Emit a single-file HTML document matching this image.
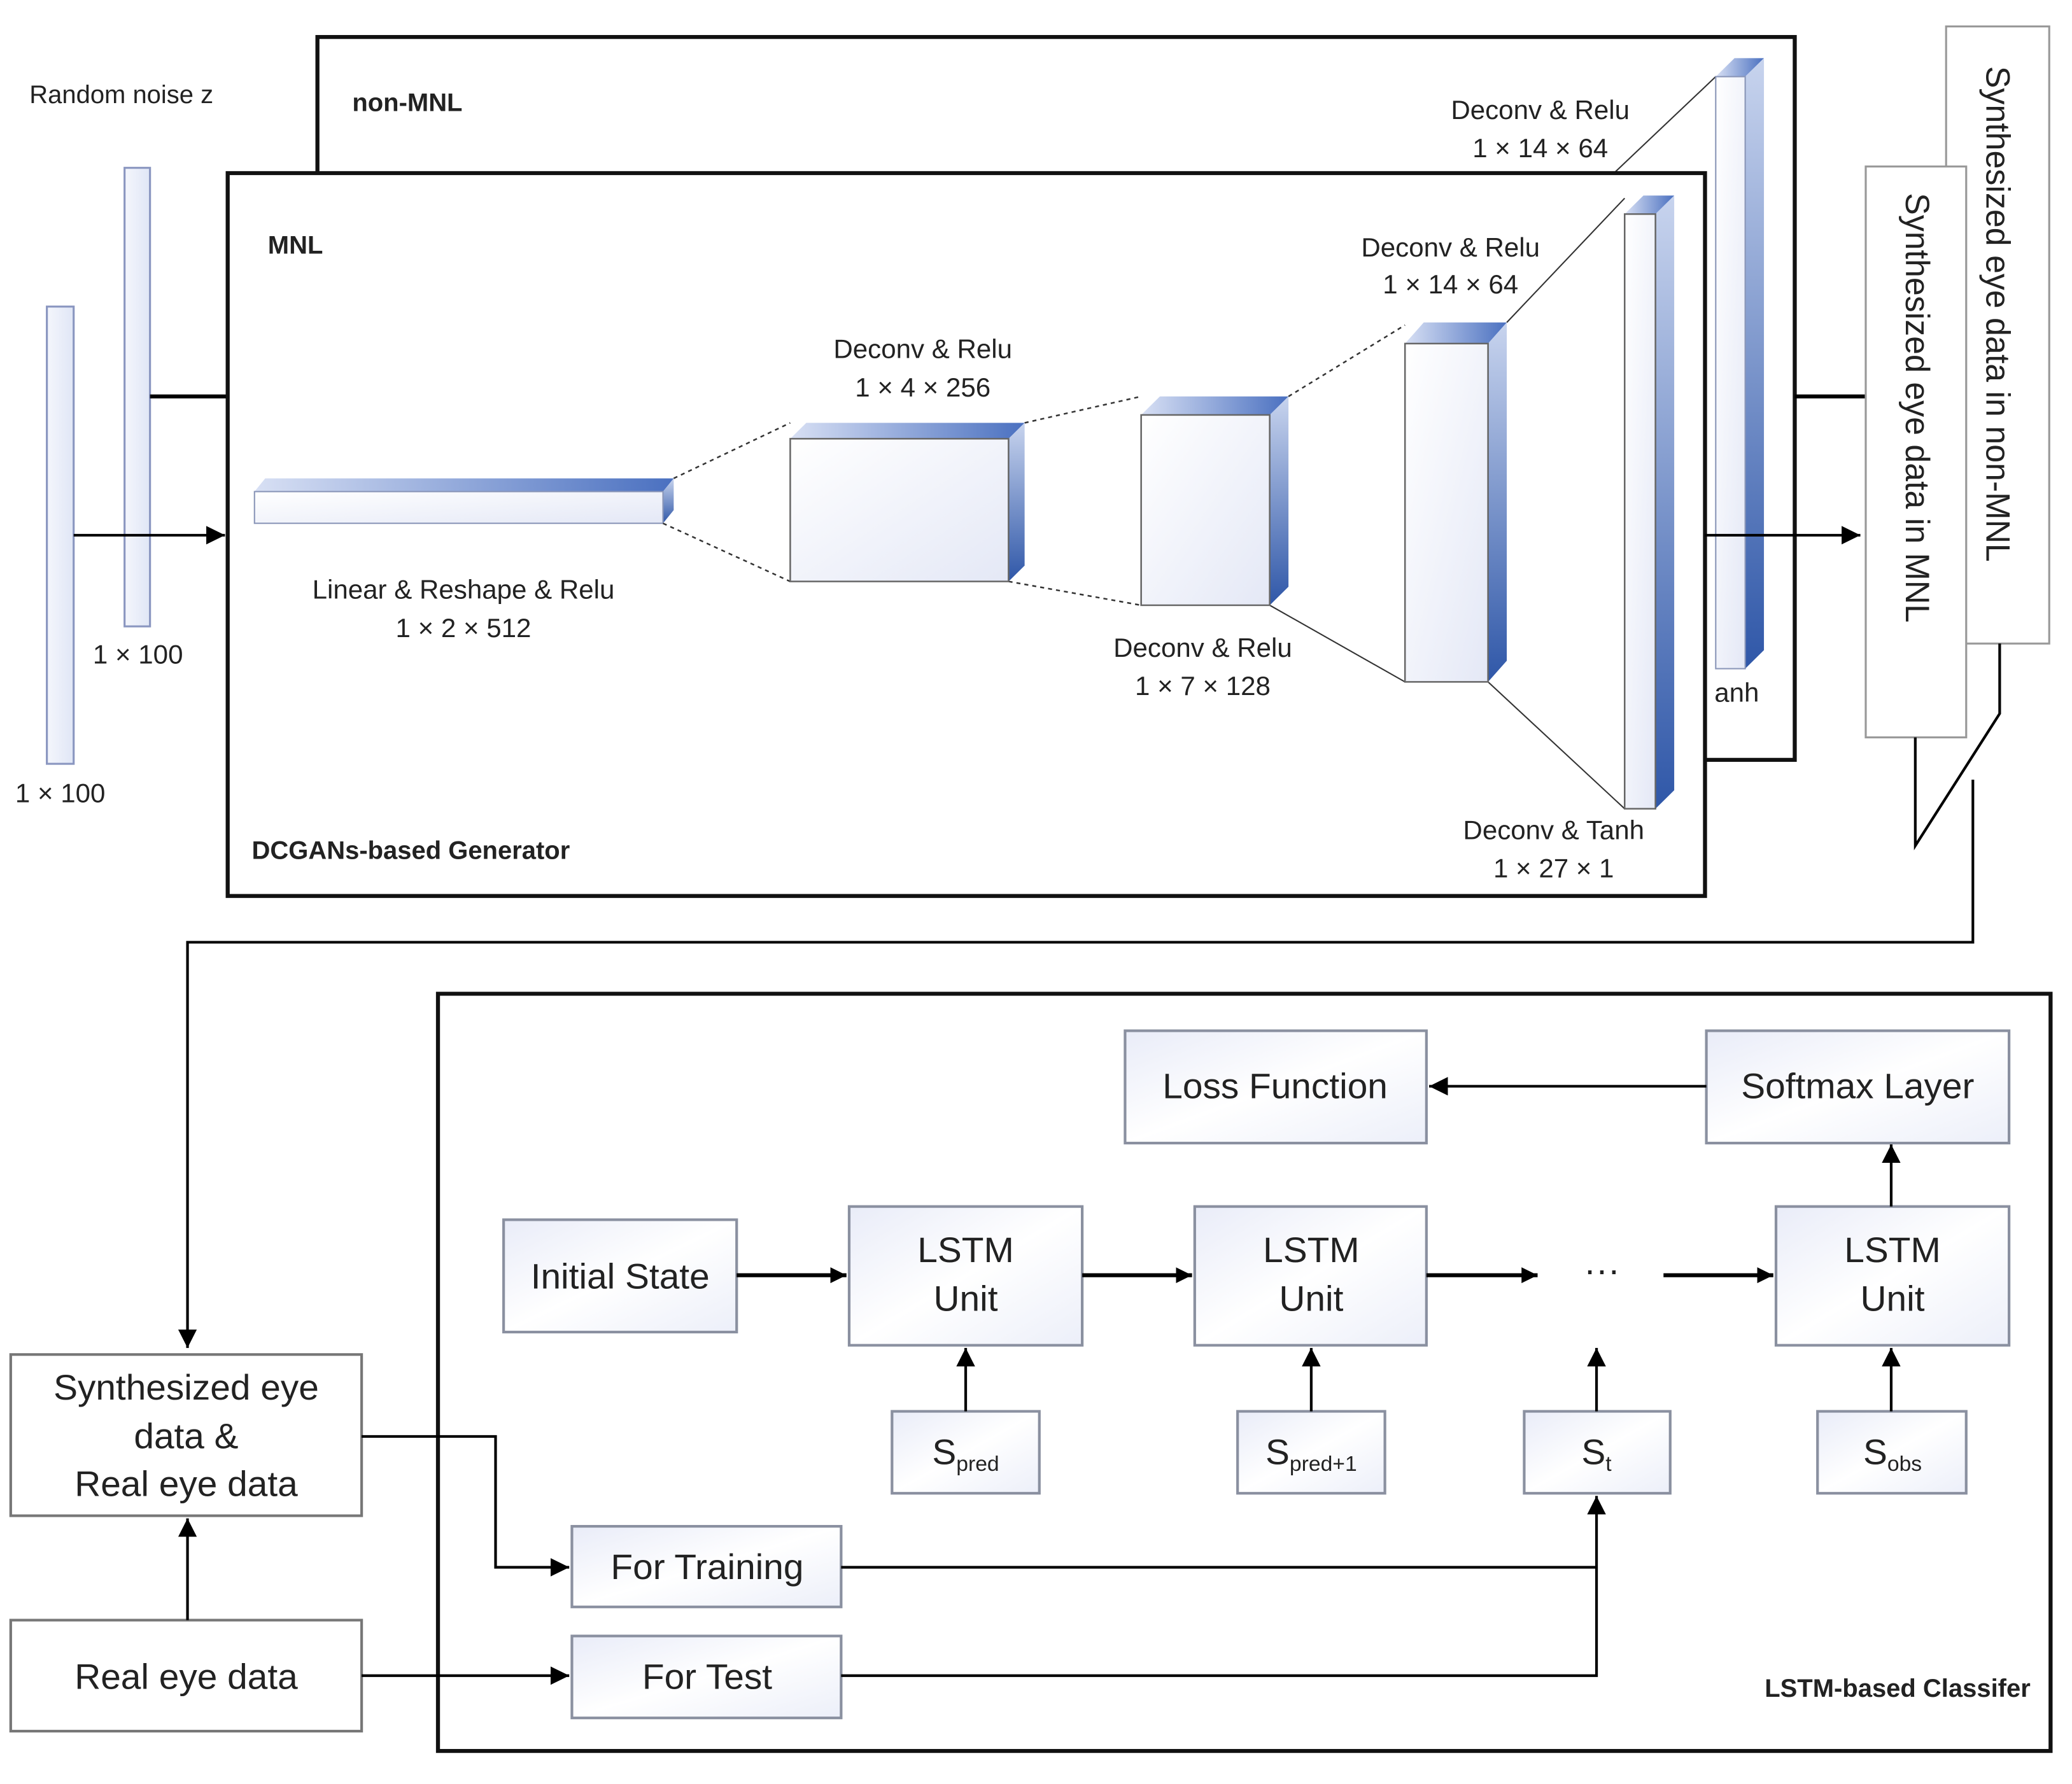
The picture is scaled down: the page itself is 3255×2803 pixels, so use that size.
<!DOCTYPE html>
<html><head><meta charset="utf-8"><style>
html,body{margin:0;padding:0;background:#fff;}
svg{display:block;}
text{font-family:"Liberation Sans",sans-serif;fill:#222;}
</style></head><body>
<svg width="3255" height="2803" viewBox="0 0 1547 1350" preserveAspectRatio="none" xmlns="http://www.w3.org/2000/svg">
<defs>
<linearGradient id="front" x1="0" y1="0" x2="1" y2="1"><stop offset="0" stop-color="#ffffff"/><stop offset="1" stop-color="#e4e8f6"/></linearGradient>
<linearGradient id="top" x1="0" y1="0" x2="1" y2="0"><stop offset="0" stop-color="#d8e0f4"/><stop offset="1" stop-color="#4a70c0"/></linearGradient>
<linearGradient id="side" x1="0" y1="0" x2="0" y2="1"><stop offset="0" stop-color="#c8d4ee"/><stop offset="1" stop-color="#2f57a8"/></linearGradient>
<linearGradient id="bar" x1="0" y1="0" x2="1" y2="0"><stop offset="0" stop-color="#f4f6fc"/><stop offset="1" stop-color="#e0e6f6"/></linearGradient>
<linearGradient id="box" x1="0" y1="0" x2="1" y2="1"><stop offset="0" stop-color="#e9ecf8"/><stop offset="0.5" stop-color="#ffffff"/><stop offset="1" stop-color="#eceff9"/></linearGradient>
<marker id="ah" viewBox="0 0 10 10" refX="10" refY="5" markerWidth="4" markerHeight="4" orient="auto"><path d="M0,0 L10,5 L0,10 z" fill="#000"/></marker>
<marker id="ahs" viewBox="0 0 10 10" refX="10" refY="5" markerWidth="7" markerHeight="7" orient="auto"><path d="M0,0 L10,5 L0,10 z" fill="#000"/></marker>
</defs>

<!-- non-MNL output box (behind) -->
<rect x="1453" y="20" width="77" height="467" fill="#fff" stroke="#999" stroke-width="1.5"/>
<text transform="translate(1483,50) rotate(90)" font-size="25">Synthesized eye data in non-MNL</text>

<!-- non-MNL box -->
<rect x="237" y="28" width="1103" height="547" fill="#fff" stroke="#111" stroke-width="3"/>
<text x="263" y="84" font-size="19" font-weight="bold">non-MNL</text>
<text x="1150" y="90" font-size="20" text-anchor="middle">Deconv &amp; Relu</text>
<text x="1150" y="119" font-size="20" text-anchor="middle">1 × 14 × 64</text>
<text x="1280" y="531" font-size="20">anh</text>
<line x1="1281" y1="58" x2="1205" y2="131" stroke="#333" stroke-width="1"/>
<!-- nonMNL block -->
<polygon points="1281,58 1295,44 1317,44 1303,58" fill="url(#top)"/>
<polygon points="1303,58 1317,44 1317,492 1303,506" fill="url(#side)"/>
<rect x="1281" y="58" width="22" height="448" fill="url(#front)" stroke="#8a96b8" stroke-width="1"/>

<!-- left bars -->
<rect x="93" y="127" width="19" height="347" fill="url(#bar)" stroke="#8a96c0" stroke-width="1.5"/>
<text x="103" y="502" font-size="20" text-anchor="middle">1 × 100</text>
<rect x="35" y="232" width="20" height="346" fill="url(#bar)" stroke="#8a96c0" stroke-width="1.5"/>
<text x="45" y="607" font-size="20" text-anchor="middle">1 × 100</text>
<text x="22" y="78" font-size="19">Random noise z</text>
<line x1="112" y1="300" x2="170" y2="300" stroke="#000" stroke-width="3"/>
<line x1="55" y1="405" x2="168" y2="405" stroke="#000" stroke-width="2" marker-end="url(#ahs)"/>

<!-- MNL box -->
<rect x="170" y="131" width="1103" height="547" fill="#fff" stroke="#111" stroke-width="3"/>
<text x="200" y="192" font-size="19" font-weight="bold">MNL</text>
<text x="188" y="650" font-size="19" font-weight="bold">DCGANs-based Generator</text>

<!-- linear block -->
<polygon points="190,372 198,362 503,362 495,372" fill="url(#top)"/>
<polygon points="495,372 503,362 503,386 495,396" fill="url(#side)"/>
<rect x="190" y="372" width="305" height="24" fill="url(#front)" stroke="#8a96b8" stroke-width="1"/>
<text x="346" y="453" font-size="20" text-anchor="middle">Linear &amp; Reshape &amp; Relu</text>
<text x="346" y="482" font-size="20" text-anchor="middle">1 × 2 × 512</text>

<g stroke="#333" stroke-width="1.2" stroke-dasharray="3,3" fill="none">
<line x1="503" y1="362" x2="590" y2="320"/>
<line x1="495" y1="396" x2="590" y2="440"/>
<line x1="765" y1="320" x2="852" y2="300"/>
<line x1="753" y1="440" x2="852" y2="458"/>
<line x1="962" y1="300" x2="1049" y2="246"/>
</g>
<g stroke="#333" stroke-width="1" fill="none">
<line x1="948" y1="458" x2="1049" y2="516"/>
<line x1="1125" y1="244" x2="1213" y2="150"/>
<line x1="1111" y1="516" x2="1213" y2="612"/>
</g>

<!-- block1 -->
<polygon points="590,332 602,320 765,320 753,332" fill="url(#top)"/>
<polygon points="753,332 765,320 765,428 753,440" fill="url(#side)"/>
<rect x="590" y="332" width="163" height="108" fill="url(#front)" stroke="#666" stroke-width="1.2"/>
<text x="689" y="271" font-size="20" text-anchor="middle">Deconv &amp; Relu</text>
<text x="689" y="300" font-size="20" text-anchor="middle">1 × 4 × 256</text>

<!-- block2 -->
<polygon points="852,314 866,300 962,300 948,314" fill="url(#top)"/>
<polygon points="948,314 962,300 962,444 948,458" fill="url(#side)"/>
<rect x="852" y="314" width="96" height="144" fill="url(#front)" stroke="#666" stroke-width="1.2"/>
<text x="898" y="497" font-size="20" text-anchor="middle">Deconv &amp; Relu</text>
<text x="898" y="526" font-size="20" text-anchor="middle">1 × 7 × 128</text>

<!-- block3 -->
<polygon points="1049,260 1063,244 1125,244 1111,260" fill="url(#top)"/>
<polygon points="1111,260 1125,244 1125,500 1111,516" fill="url(#side)"/>
<rect x="1049" y="260" width="62" height="256" fill="url(#front)" stroke="#666" stroke-width="1.2"/>
<text x="1083" y="194" font-size="20" text-anchor="middle">Deconv &amp; Relu</text>
<text x="1083" y="222" font-size="20" text-anchor="middle">1 × 14 × 64</text>

<!-- block4 -->
<polygon points="1213,162 1227,148 1250,148 1236,162" fill="url(#top)"/>
<polygon points="1236,162 1250,148 1250,598 1236,612" fill="url(#side)"/>
<rect x="1213" y="162" width="23" height="450" fill="url(#front)" stroke="#666" stroke-width="1.2"/>
<text x="1160" y="635" font-size="20" text-anchor="middle">Deconv &amp; Tanh</text>
<text x="1160" y="664" font-size="20" text-anchor="middle">1 × 27 × 1</text>

<!-- right outputs -->
<line x1="1273" y1="405" x2="1389" y2="405" stroke="#000" stroke-width="2" marker-end="url(#ahs)"/>
<line x1="1340" y1="300" x2="1393" y2="300" stroke="#000" stroke-width="3"/>
<rect x="1393" y="126" width="75" height="432" fill="#fff" stroke="#999" stroke-width="1.5"/>
<text transform="translate(1423,146) rotate(90)" font-size="25">Synthesized eye data in MNL</text>
<polyline points="1493,487 1493,540 1430,640 1430,558" fill="none" stroke="#000" stroke-width="2"/>
<polyline points="1473,590 1473,713 140,713 140,1020" fill="none" stroke="#000" stroke-width="2" marker-end="url(#ahs)"/>

<!-- LSTM classifier -->
<rect x="327" y="752" width="1204" height="573" fill="#fff" stroke="#111" stroke-width="3"/>
<text x="1516" y="1284" font-size="19" font-weight="bold" text-anchor="end">LSTM-based Classifer</text>

<g stroke="#8a90a0" stroke-width="2" fill="url(#box)">
<rect x="840" y="780" width="225" height="85"/>
<rect x="1274" y="780" width="226" height="85"/>
<rect x="376" y="923" width="174" height="85"/>
<rect x="634" y="913" width="174" height="105"/>
<rect x="892" y="913" width="173" height="105"/>
<rect x="1326" y="913" width="174" height="105"/>
<rect x="666" y="1068" width="110" height="62"/>
<rect x="924" y="1068" width="110" height="62"/>
<rect x="1138" y="1068" width="109" height="62"/>
<rect x="1357" y="1068" width="111" height="62"/>
<rect x="427" y="1155" width="201" height="61"/>
<rect x="427" y="1238" width="201" height="62"/>
</g>
<g stroke="#777" stroke-width="2" fill="#fff">
<rect x="8" y="1025" width="262" height="122"/>
<rect x="8" y="1226" width="262" height="84"/>
</g>

<g font-size="27" text-anchor="middle">
<text x="952" y="831">Loss Function</text>
<text x="1387" y="831">Softmax Layer</text>
<text x="463" y="975">Initial State</text>
<text x="721" y="955">LSTM</text><text x="721" y="992">Unit</text>
<text x="979" y="955">LSTM</text><text x="979" y="992">Unit</text>
<text x="1413" y="955">LSTM</text><text x="1413" y="992">Unit</text>
<text x="1196" y="970">···</text>
<text x="528" y="1195">For Training</text>
<text x="528" y="1278">For Test</text>
<text x="139" y="1059">Synthesized eye</text>
<text x="139" y="1096">data &amp;</text>
<text x="139" y="1132">Real eye data</text>
<text x="139" y="1278">Real eye data</text>
<text x="721" y="1108">S<tspan font-size="16" dy="5">pred</tspan></text>
<text x="979" y="1108">S<tspan font-size="16" dy="5">pred+1</tspan></text>
<text x="1192" y="1108">S<tspan font-size="16" dy="5">t</tspan></text>
<text x="1413" y="1108">S<tspan font-size="16" dy="5">obs</tspan></text>
</g>

<g stroke="#000" stroke-width="3" fill="none" marker-end="url(#ah)">
<line x1="550" y1="965" x2="632" y2="965"/>
<line x1="808" y1="965" x2="890" y2="965"/>
<line x1="1065" y1="965" x2="1148" y2="965"/>
<line x1="1242" y1="965" x2="1324" y2="965"/>
</g>
<g stroke="#000" stroke-width="2" fill="none" marker-end="url(#ahs)">
<line x1="1274" y1="822" x2="1067" y2="822"/>
<line x1="1412" y1="913" x2="1412" y2="866"/>
<line x1="721" y1="1068" x2="721" y2="1020"/>
<line x1="979" y1="1068" x2="979" y2="1020"/>
<line x1="1192" y1="1068" x2="1192" y2="1020"/>
<line x1="1412" y1="1068" x2="1412" y2="1020"/>
<line x1="140" y1="1226" x2="140" y2="1149"/>
<polyline points="270,1087 370,1087 370,1186 425,1186"/>
<line x1="270" y1="1268" x2="425" y2="1268"/>
<polyline points="628,1268 1192,1268 1192,1132"/>
</g>
<line x1="628" y1="1186" x2="1192" y2="1186" stroke="#000" stroke-width="2"/>
</svg>
</body></html>
